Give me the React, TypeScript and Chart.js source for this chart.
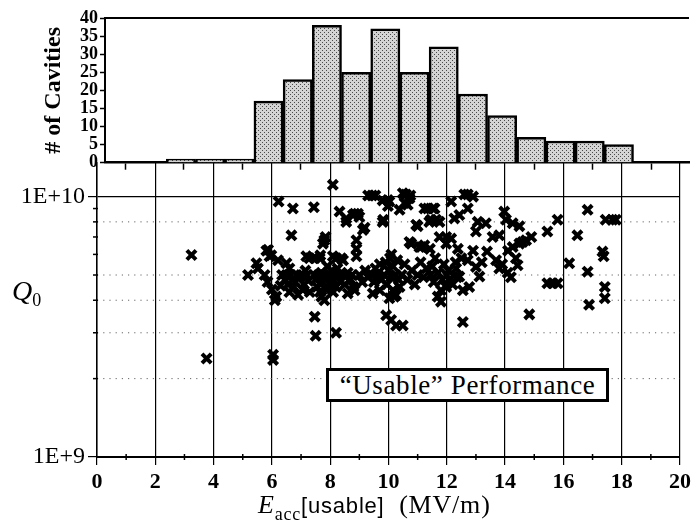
import React, { useEffect, useRef } from 'react';
import { Chart, registerables } from 'chart.js';

Chart.register(...registerables);

const SERIF = '"Liberation Serif", "Times New Roman", Times, serif';
const SANS = '"Liberation Sans", Arial, sans-serif';

// ---- Histogram: number of cavities per 1 MV/m bin (bin centres, MV/m) ----
const binCenters = [2.9, 3.9, 4.9, 5.9, 6.9, 7.9, 8.9, 9.9, 10.9, 11.9, 12.9, 13.9, 14.9, 15.9, 16.9, 17.9];
const cavityCounts = [1, 1, 1, 17, 23, 38, 25, 37, 25, 32, 19, 13, 7, 6, 6, 5];
const histYMax = 40;
const histYStep = 5;

// ---- Axes ----
const eaccTicks = [0, 2, 4, 6, 8, 10, 12, 14, 16, 18, 20];
const eaccMinorTicks = [1, 3, 5, 7, 9, 11, 13, 15, 17, 19];
const q0MajorTicks = [1e9, 1e10];
const q0TickLabels = ['1E+9', '1E+10'];
const q0MinorTicks = [2e9, 3e9, 4e9, 5e9, 6e9, 7e9, 8e9, 9e9];
const q0DottedGrid = [2e9, 3e9, 4e9, 5e9, 8e9];

// ---- Scatter: [Eacc usable (MV/m), Q0] ----
const usablePoints: [number, number][] = [
  [3.24, 5.97e9], [3.76, 2.39e9], [5.18, 5.0e9],
  [5.47, 5.55e9], [5.52, 5.3e9], [5.81, 6.2e9], [5.87, 6.25e9], [5.92, 5.9e9], [5.98, 5.95e9],
  [6.04, 2.47e9], [6.04, 2.36e9], [6.1, 4.0e9], [6.15, 4.13e9], [6.21, 5.7e9], [6.23, 9.57e9],
  [5.75, 5.0e9], [5.85, 4.7e9], [6.0, 4.4e9], [6.3, 4.55e9], [6.35, 5.0e9],
  [6.5, 5.55e9], [6.67, 7.1e9], [6.72, 9.0e9], [6.45, 4.8e9], [6.5, 5.0e9], [6.55, 4.6e9],
  [6.6, 4.3e9], [6.65, 5.0e9], [6.75, 4.5e9], [6.8, 4.7e9], [6.85, 5.0e9], [6.9, 4.2e9],
  [6.95, 4.9e9], [7.0, 5.0e9], [7.05, 4.4e9], [7.1, 4.6e9], [7.15, 5.2e9], [7.18, 5.9e9],
  [7.2, 5.0e9], [7.25, 4.75e9], [7.29, 5.8e9], [7.3, 4.3e9], [6.6, 5.3e9],
  [7.44, 9.1e9], [7.47, 5.8e9], [7.47, 3.46e9], [7.5, 2.92e9], [7.64, 5.8e9], [7.66, 5.95e9],
  [7.7, 4.13e9], [7.75, 6.6e9], [7.8, 4.0e9], [7.84, 7.0e9], [7.8, 6.8e9], [8.09, 11.1e9],
  [8.09, 5.9e9], [8.2, 3.0e9], [8.21, 5.8e9], [8.32, 8.76e9], [8.38, 5.8e9],
  [7.45, 5.0e9], [7.5, 4.8e9], [7.55, 4.5e9], [7.6, 5.0e9], [7.65, 4.3e9], [7.7, 5.1e9],
  [7.75, 4.7e9], [7.8, 5.0e9], [7.85, 4.4e9], [7.9, 4.9e9], [7.95, 5.0e9], [8.0, 4.6e9],
  [8.05, 5.2e9], [8.1, 4.8e9], [8.15, 5.0e9], [8.2, 4.5e9], [8.25, 5.3e9], [8.3, 5.0e9],
  [8.35, 4.7e9], [7.9, 5.4e9], [8.1, 4.3e9],
  [8.44, 5.7e9], [8.55, 8.25e9], [8.55, 8.0e9], [8.6, 4.25e9], [8.78, 8.5e9], [8.84, 8.6e9],
  [8.84, 4.37e9], [8.9, 6.8e9], [8.9, 6.3e9], [8.9, 5.9e9], [8.95, 8.6e9], [9.0, 8.35e9],
  [9.12, 7.45e9], [9.18, 7.6e9], [9.3, 10.1e9],
  [8.45, 5.0e9], [8.5, 4.6e9], [8.6, 5.1e9], [8.7, 4.8e9], [8.75, 5.0e9], [8.8, 4.5e9],
  [9.0, 5.0e9], [9.1, 4.7e9], [9.2, 5.2e9], [9.3, 4.9e9],
  [9.44, 10.1e9], [9.55, 10.1e9], [9.46, 4.25e9], [9.7, 4.37e9], [9.8, 8.0e9], [9.8, 9.67e9],
  [9.82, 8.15e9], [9.92, 3.5e9], [9.98, 9.7e9], [9.98, 9.2e9], [10.03, 9.57e9], [10.03, 4.07e9],
  [10.09, 3.36e9], [10.15, 4.37e9], [10.2, 4.13e9], [10.1, 6.0e9], [10.26, 3.2e9], [10.26, 4.19e9],
  [10.38, 8.9e9], [10.38, 4.5e9],
  [9.45, 5.0e9], [9.5, 4.7e9], [9.55, 5.3e9], [9.6, 4.9e9], [9.65, 5.1e9], [9.7, 5.5e9],
  [9.75, 4.8e9], [9.85, 5.0e9], [9.9, 5.6e9], [9.95, 4.6e9], [10.0, 5.2e9], [10.05, 5.8e9],
  [10.1, 4.9e9], [10.15, 5.4e9], [10.25, 5.0e9], [10.3, 5.7e9], [10.35, 4.8e9],
  [10.49, 10.3e9], [10.6, 10.2e9], [10.49, 3.2e9], [10.55, 9.45e9], [10.66, 9.3e9], [10.72, 9.85e9],
  [10.75, 10.1e9], [10.72, 6.7e9], [10.78, 6.6e9], [10.95, 7.8e9], [11.0, 7.7e9], [11.06, 6.4e9],
  [11.12, 6.4e9], [11.23, 9.0e9], [11.23, 6.5e9], [11.35, 9.0e9],
  [10.45, 5.0e9], [10.55, 5.5e9], [10.65, 4.8e9], [10.8, 5.2e9], [10.9, 4.6e9], [11.0, 5.0e9],
  [11.1, 5.6e9], [11.2, 4.9e9], [11.3, 5.3e9],
  [11.4, 8.0e9], [11.46, 8.15e9], [11.52, 9.0e9], [11.58, 9.0e9], [11.63, 8.15e9], [11.69, 4.13e9],
  [11.75, 8.0e9], [11.75, 7.0e9], [11.8, 3.95e9], [11.8, 4.37e9], [11.98, 6.6e9], [11.98, 7.0e9],
  [11.98, 4.5e9], [12.1, 4.8e9], [12.15, 9.57e9], [12.15, 6.9e9], [12.26, 8.25e9], [12.32, 5.3e9],
  [12.38, 6.3e9], [11.42, 6.3e9],
  [11.45, 5.0e9], [11.5, 5.4e9], [11.55, 4.7e9], [11.6, 5.8e9], [11.7, 5.1e9], [11.85, 4.8e9],
  [11.9, 5.5e9], [12.0, 5.0e9], [12.05, 5.2e9], [12.2, 4.6e9], [12.3, 5.6e9], [12.35, 4.9e9],
  [12.43, 8.5e9], [12.43, 4.93e9], [12.55, 3.3e9], [12.55, 4.37e9], [12.6, 10.2e9], [12.72, 10.2e9],
  [12.72, 9.0e9], [12.72, 5.7e9], [12.77, 4.5e9], [12.9, 10.0e9], [13.0, 5.37e9], [13.0, 7.35e9],
  [13.06, 8.0e9], [13.12, 4.93e9], [13.34, 7.9e9], [13.38, 6.15e9], [12.5, 5.8e9], [12.9, 6.2e9],
  [13.2, 5.6e9],
  [13.57, 7.0e9], [13.69, 5.7e9], [13.8, 7.1e9], [13.8, 5.3e9], [13.97, 8.76e9], [14.03, 8.15e9],
  [14.09, 5.1e9], [14.2, 4.9e9], [14.26, 7.9e9], [14.26, 6.4e9], [14.37, 5.8e9], [13.9, 5.5e9],
  [14.1, 6.2e9],
  [14.43, 5.45e9], [14.49, 7.7e9], [14.49, 6.6e9], [14.72, 6.8e9], [14.83, 3.53e9], [14.9, 7.0e9],
  [14.6, 6.7e9],
  [15.45, 7.35e9], [15.45, 4.65e9], [15.63, 4.65e9], [15.8, 4.65e9], [15.8, 8.15e9], [16.2, 5.55e9],
  [16.48, 7.1e9], [16.83, 8.9e9], [16.83, 5.15e9], [16.88, 3.84e9], [17.34, 6.15e9], [17.38, 5.9e9],
  [17.45, 8.15e9], [17.68, 8.15e9], [17.8, 8.15e9], [17.42, 4.5e9], [17.42, 4.07e9],
];

function line(ctx: CanvasRenderingContext2D, x1: number, y1: number, x2: number, y2: number) {
  ctx.beginPath();
  ctx.moveTo(x1, y1);
  ctx.lineTo(x2, y2);
  ctx.stroke();
}

const histTopLine = {
  id: 'histTopLine',
  afterDraw(chart: any) {
    const { ctx, chartArea: a } = chart;
    ctx.save();
    ctx.strokeStyle = '#000';
    ctx.lineWidth = 2;
    line(ctx, a.left, a.top, a.right, a.top);
    ctx.restore();
  },
};

const q0Minor = {
  id: 'q0Minor',
  beforeDatasetsDraw(chart: any) {
    const { ctx, chartArea: a, scales } = chart;
    const x = scales.x;
    const y = scales.y;
    ctx.save();
    ctx.strokeStyle = '#666';
    ctx.lineWidth = 1;
    ctx.setLineDash([1.2, 5]);
    q0DottedGrid.forEach((v) => {
      const py = y.getPixelForValue(v);
      line(ctx, a.left, py, a.right, py);
    });
    ctx.setLineDash([]);
    ctx.strokeStyle = '#000';
    ctx.lineWidth = 1.5;
    q0MinorTicks.forEach((v) => {
      const py = y.getPixelForValue(v);
      line(ctx, a.left - 4, py, a.left + 1, py);
    });
    eaccMinorTicks.forEach((v) => {
      const px = x.getPixelForValue(v);
      line(ctx, px, a.bottom - 3, px, a.bottom + 3);
    });
    ctx.restore();
  },
};

function makeStipple(target: HTMLCanvasElement) {
  const c = document.createElement('canvas');
  c.width = 4;
  c.height = 4;
  const g = c.getContext('2d')!;
  g.fillStyle = '#d4d4d4';
  g.fillRect(0, 0, 4, 4);
  g.fillStyle = '#4a4a4a';
  g.fillRect(0, 0, 1, 1);
  g.fillRect(2, 2, 1, 1);
  return target.getContext('2d')!.createPattern(c, 'repeat');
}

export default function App() {
  const histRef = useRef<HTMLCanvasElement>(null);
  const scatRef = useRef<HTMLCanvasElement>(null);

  useEffect(() => {
    const histCanvas = histRef.current!;
    const scatCanvas = scatRef.current!;
    const stipple = makeStipple(histCanvas);

    const scatter = new Chart(scatCanvas, {
      type: 'scatter',
      data: {
        datasets: [
          {
            data: usablePoints.map(([x, y]) => ({ x, y })),
            pointStyle: 'crossRot',
            pointRadius: 6.5,
            borderWidth: 4,
            borderColor: '#000',
            backgroundColor: '#000',
          },
        ],
      },
      options: {
        responsive: false,
        animation: false,
        events: [],
        layout: { padding: { left: 0, right: 14, top: 162.7, bottom: 0 } },
        plugins: { legend: { display: false }, tooltip: { enabled: false } },
        scales: {
          x: {
            type: 'linear',
            min: 0,
            max: 20,
            afterBuildTicks: (s: any) => {
              s.ticks = eaccTicks.map((value) => ({ value }));
            },
            afterFit: (s: any) => {
              s.height = 70;
            },
            ticks: {
              color: '#000',
              font: { family: SERIF, size: 22, weight: 'bold' },
              padding: 4,
              maxRotation: 0,
              autoSkip: false,
            },
            grid: { color: '#000', lineWidth: 1.2, tickLength: 8, tickColor: '#000' },
            border: { color: '#000', width: 2 },
          },
          y: {
            type: 'logarithmic',
            min: 1e9,
            max: 1.35e10,
            afterBuildTicks: (s: any) => {
              s.ticks = q0MajorTicks.map((value) => ({ value }));
            },
            afterFit: (s: any) => {
              s.width = 97;
            },
            ticks: {
              color: '#000',
              font: { family: SERIF, size: 24 },
              padding: 3,
              autoSkip: false,
              callback: (v: any) => {
                const i = q0MajorTicks.indexOf(Number(v));
                return i >= 0 ? q0TickLabels[i] : '';
              },
            },
            grid: { color: '#000', lineWidth: 1.2, tickLength: 9, tickColor: '#000' },
            border: { color: '#000', width: 1.5 },
          },
        },
      } as any,
      plugins: [q0Minor],
    });

    const hist = new Chart(histCanvas, {
      type: 'bar',
      data: {
        datasets: [
          {
            data: binCenters.map((x, i) => ({ x, y: cavityCounts[i] })),
            backgroundColor: stipple as any,
            borderColor: '#000',
            borderWidth: 2.5,
            borderSkipped: 'start',
            barPercentage: 1,
            categoryPercentage: 1,
            grouped: false,
          },
        ],
      },
      options: {
        responsive: false,
        animation: false,
        events: [],
        layout: { padding: { left: 0, right: 6, top: 18, bottom: 0 } },
        plugins: { legend: { display: false }, tooltip: { enabled: false } },
        scales: {
          x: {
            type: 'linear',
            min: 0.3,
            max: 20.3,
            offset: false,
            afterBuildTicks: (s: any) => {
              s.ticks = eaccMinorTicks.map((value) => ({ value }));
            },
            afterFit: (s: any) => {
              s.height = 12.3;
            },
            ticks: { display: false },
            grid: {
              offset: false,
              drawOnChartArea: false,
              drawTicks: true,
              tickLength: 7,
              tickColor: '#000',
              tickWidth: 1.5,
            },
            border: { color: '#000', width: 2.5 },
          },
          y: {
            min: 0,
            max: histYMax,
            afterFit: (s: any) => {
              s.width = 105;
            },
            ticks: {
              stepSize: histYStep,
              autoSkip: false,
              color: '#000',
              font: { family: SERIF, size: 18, weight: 'bold', lineHeight: 1 },
              padding: 2,
            },
            grid: { drawOnChartArea: false, tickLength: 5, tickColor: '#000', tickWidth: 1.5 },
            border: { color: '#000', width: 2 },
            title: {
              display: true,
              text: '# of Cavities',
              color: '#000',
              font: { family: SERIF, size: 24, weight: 'bold' },
              padding: { top: 39, bottom: 0 },
            },
          },
        },
      } as any,
      plugins: [histTopLine],
    });

    return () => {
      hist.destroy();
      scatter.destroy();
    };
  }, []);

  return (
    <div
      style={{
        position: 'absolute',
        left: 0,
        top: 0,
        width: 695,
        height: 527,
        background: '#fff',
        overflow: 'hidden',
      }}
    >
      <canvas
        ref={scatRef}
        width={695}
        height={527}
        style={{ position: 'absolute', left: 0, top: 0, width: 695, height: 527 }}
      />
      <canvas
        ref={histRef}
        width={695}
        height={175}
        style={{ position: 'absolute', left: 0, top: 0, width: 695, height: 175 }}
      />
      <div
        style={{
          position: 'absolute',
          left: 12,
          top: 277,
          fontFamily: SERIF,
          fontSize: 28,
          lineHeight: '28px',
          whiteSpace: 'nowrap',
        }}
      >
        <i>Q</i>
        <span style={{ fontSize: 18, position: 'relative', top: 6 }}>0</span>
      </div>
      <div
        style={{
          position: 'absolute',
          left: 258,
          top: 492,
          fontFamily: SERIF,
          fontSize: 26,
          lineHeight: '26px',
          whiteSpace: 'nowrap',
          letterSpacing: '0.8px',
        }}
      >
        <i>E</i>
        <span style={{ fontSize: 18, position: 'relative', top: 7 }}>acc</span>
        <span style={{ fontFamily: SANS, fontSize: 22 }}>[usable]</span>
        {'\u00a0\u00a0(MV/m)'}
      </div>
      <div
        style={{
          position: 'absolute',
          left: 326,
          top: 368,
          width: 283,
          height: 34,
          boxSizing: 'border-box',
          border: '3px solid #000',
          background: '#fff',
          fontFamily: SERIF,
          fontSize: 27,
          lineHeight: '28px',
          textAlign: 'center',
          whiteSpace: 'nowrap',
          letterSpacing: '0.6px',
        }}
      >
        {'\u201cUsable\u201d Performance'}
      </div>
    </div>
  );
}
